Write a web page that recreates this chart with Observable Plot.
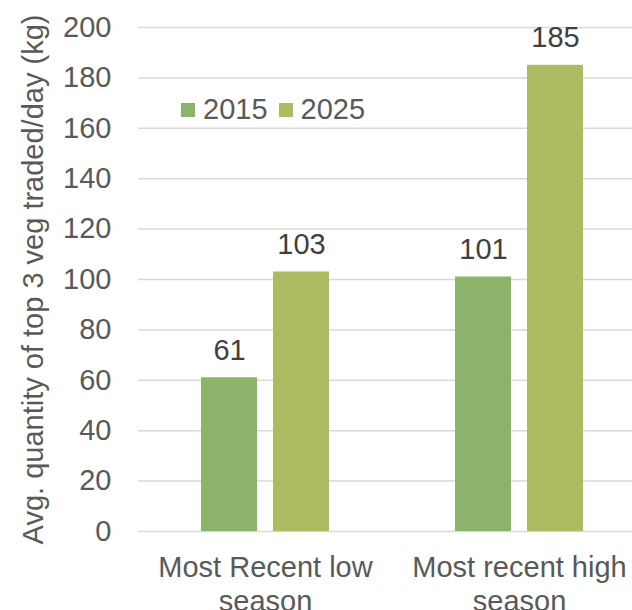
<!DOCTYPE html>
<html>
<head>
<meta charset="utf-8">
<script src="https://cdn.jsdelivr.net/npm/d3@7"></script>
<script src="https://cdn.jsdelivr.net/npm/@observablehq/plot@0.6"></script>
<style>
  body { margin: 0; background: #fff; font-family: "Liberation Sans", Arial, sans-serif; }
  #chart { position: relative; width: 632px; height: 610px; overflow: hidden; }
  #legend { position: absolute; left: 181px; top: 93px; }
  #legend .lg-swatches-wrap { min-height: 0; margin: 0; }
  #legend .lg-swatch { margin-right: 11px; }
  #legend .lg-swatch > svg { margin-right: 8px; }
</style>
</head>
<body>
<div id="chart"><div id="legend"></div></div>
<script>
// Categories, series and axis ticks
const seasons = ["Most Recent low season", "Most recent high season"];
const years = ["2015", "2025"];
const qty2015 = [61, 101];
const qty2025 = [103, 185];
const yTicks = [0, 20, 40, 60, 80, 100, 120, 140, 160, 180, 200];
const yLabel = "Avg. quantity of top 3 veg traded/day (kg)";
const yearColors = ["#8BB36A", "#ADBC62"];

const font = "'Liberation Sans', Arial, sans-serif";
const fs = 29;

// Long table: one row per season × year
const rows = seasons.flatMap((season, i) => [
  {season, year: years[0], value: qty2015[i]},
  {season, year: years[1], value: qty2025[i]}
]);

const chart = Plot.plot({
  width: 632,
  height: 610,
  marginLeft: 137,
  marginRight: -14,
  marginTop: 27,
  marginBottom: 79,
  style: {fontFamily: font, fontSize: fs + "px", color: "#595959", background: "#fff", overflow: "hidden"},
  fx: {domain: seasons, padding: 0, label: null},
  x: {domain: years, paddingInner: 0.22, paddingOuter: 0.86, axis: null},
  y: {domain: [0, 200], label: null},
  color: {domain: years, range: yearColors},
  marks: [
    Plot.gridY(yTicks, {stroke: "#d9d9d9", strokeOpacity: 1, strokeWidth: 1.5}),
    Plot.barY(rows, {fx: "season", x: "year", y: "value", fill: "year"}),
    Plot.text(rows, {
      fx: "season", x: "year", y: "value",
      text: d => String(d.value),
      lineAnchor: "bottom", dy: -18,
      fontSize: fs, fill: "#404040"
    }),
    Plot.axisY(yTicks, {
      tickSize: 0, tickPadding: 27, fontSize: fs, color: "#595959",
      label: yLabel, labelArrow: "none", labelAnchor: "center", labelOffset: 116
    }),
    Plot.axisFx({
      anchor: "bottom",
      tickSize: 0, tickPadding: 21, fontSize: fs, color: "#595959", label: null,
      lineHeight: 1.17,
      tickFormat: d => d.replace(/ season$/, "\nseason")
    })
  ]
});

document.getElementById("chart").prepend(chart);

const legend = Plot.legend({
  color: {domain: years, range: yearColors},
  legend: "swatches",
  swatchSize: 14,
  className: "lg",
  style: {fontFamily: font, fontSize: fs + "px", color: "#595959"}
});
document.getElementById("legend").append(legend);
</script>
</body>
</html>
